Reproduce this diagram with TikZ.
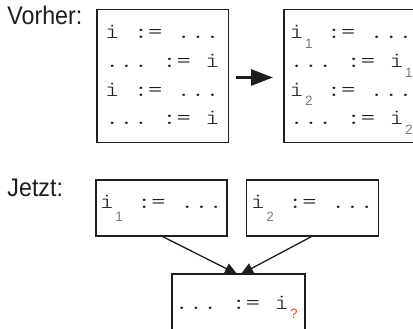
\documentclass[tikz,border=0pt]{standalone}
\usepackage{fontspec}
\usepackage{graphicx}
\setsansfont{Liberation Sans}
\newfontfamily\labelfont{Liberation Sans}
\newfontfamily\idxfont{Liberation Sans}
\newfontfamily\codefont[FakeStretch=1.238]{lmmonolt10-regular.otf}
\usetikzlibrary{arrows.meta}

\definecolor{ink}{HTML}{1E1E1E}
\definecolor{idxgray}{HTML}{7A7A7A}
\definecolor{idxred}{HTML}{E8403C}

% one blank monospace cell
\newcommand\gap{\hspace*{14.3pt}}
% variable with a lowered index: #1 index, #2 drop, #3 colour
\newcommand\idx[3]{i\hspace*{1.2pt}\raisebox{-#2}{\idxfont\fontsize{13.5pt}{13.5pt}\selectfont\textcolor{#3}{#1}}}

\tikzset{
  block/.style={draw=ink, line width=1.5pt, rectangle, inner sep=0pt, outer sep=0pt},
  code/.style={anchor=base west, inner sep=0pt, outer sep=0pt, text=ink,
    font=\codefont\fontsize{22pt}{22pt}\selectfont},
  caption/.style={anchor=base west, inner sep=0pt, outer sep=0pt, text=ink},
  bigarrow/.style={draw=ink, line width=3pt, -{Triangle[length=22pt,width=16pt]}},
  flow/.style={draw=ink, line width=1.3pt, -{Triangle[length=12pt,width=11pt]}},
}

\begin{document}
\begin{tikzpicture}[x=1pt, y=-1pt]
\clip (0,0) rectangle (413,329);
\fill[white] (0,0) rectangle (413,329);

% captions
\node[caption] (lvorher) at (7.5,25) {\scalebox{0.91}[1]{\labelfont\fontsize{25.5pt}{25.5pt}\selectfont Vorher:}};
\node[caption] (ljetzt) at (7.5,196.7) {\scalebox{0.91}[1]{\labelfont\fontsize{25.5pt}{25.5pt}\selectfont Jetzt:}};

% upper row: before and after renaming
\node[block, minimum width=131.3pt, minimum height=132.8pt] (b1) at (162.65,75.9) {};
\node[block, minimum width=132pt, minimum height=132.8pt] (b2) at (350,75.9) {};

\node[code] (r11) at (105.2,38.5)  {i\gap:=\gap...};
\node[code] (r12) at (105.2,67.3)  {...\gap:=\gap i};
\node[code] (r13) at (105.2,96.1)  {i\gap:=\gap...};
\node[code] (r14) at (105.2,124.9) {...\gap:=\gap i};

\node[code] (r21) at (289.5,38.5)  {\idx{1}{9.8pt}{idxgray}\gap:=\gap...};
\node[code] (r22) at (289.5,67.3)  {...\gap:=\gap\idx{1}{9.8pt}{idxgray}};
\node[code] (r23) at (289.5,96.1)  {\idx{2}{9.8pt}{idxgray}\gap:=\gap...};
\node[code] (r24) at (289.5,124.9) {...\gap:=\gap\idx{2}{9.8pt}{idxgray}};

\draw[bigarrow, shorten <=7.7pt, shorten >=11pt]
  ([yshift=-1.6pt]b1.east) -- ([yshift=-1.6pt]b2.west);

% lower row: two definitions reaching one use
\node[block, minimum width=131pt, minimum height=56pt] (b3) at (161.5,208) {};
\node[block, minimum width=131.8pt, minimum height=56pt] (b4) at (312.6,208) {};
\node[block, minimum width=133pt, minimum height=56pt] (b5) at (238.5,302) {};

\node[code] (r3) at (99.85,208.3)  {\idx{1}{13.4pt}{idxgray}\gap:=\gap...};
\node[code] (r4) at (250.85,208.3) {\idx{2}{13.4pt}{idxgray}\gap:=\gap...};
\node[code] (r5) at (174.5,309.3)  {...\gap:=\gap\idx{?}{9pt}{idxred}};

\draw[flow] (b3.south) -- ([xshift=-1.5pt]b5.north);
\draw[flow] (b4.south) -- ([xshift=2.5pt]b5.north);
\end{tikzpicture}
\end{document}
